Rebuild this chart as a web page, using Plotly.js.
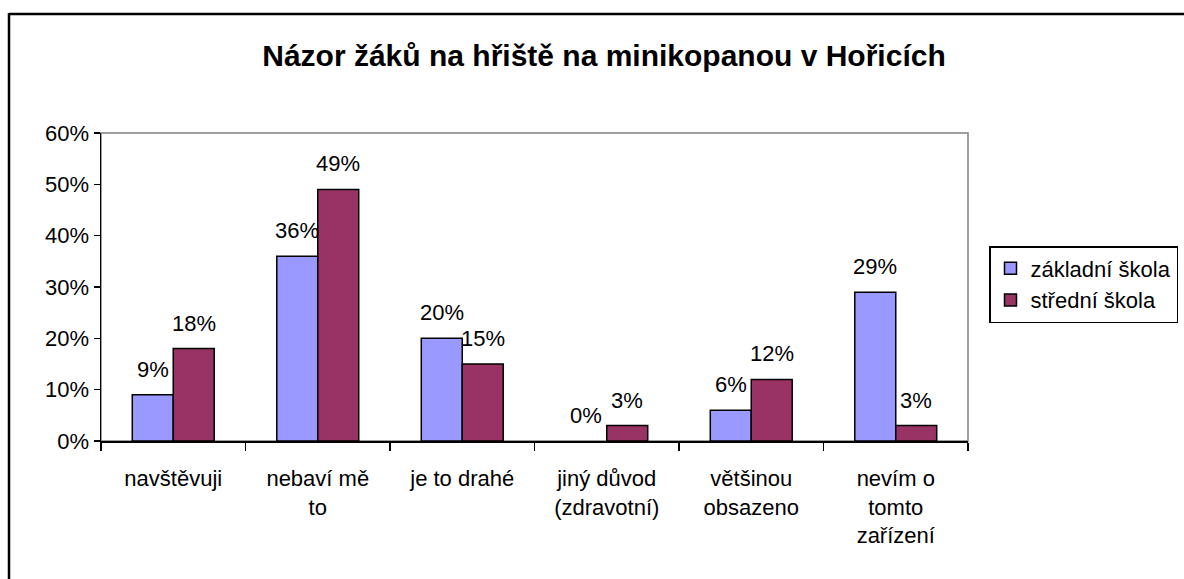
<!DOCTYPE html>
<html>
<head>
<meta charset="utf-8">
<script src="https://cdn.plot.ly/plotly-3.0.1.min.js"></script>
<style>html,body{margin:0;padding:0;background:#fff;}#chart{width:1184px;height:579px;}</style>
</head>
<body>
<div id="chart"></div>
<script>
const categories = ["navštěvuji", "nebaví mě<br>to", "je to drahé", "jiný důvod<br>(zdravotní)", "většinou<br>obsazeno", "nevím o<br>tomto<br>zařízení"];
const zakladni = [0.09, 0.36, 0.20, 0.00, 0.06, 0.29];
const stredni = [0.18, 0.49, 0.15, 0.03, 0.12, 0.03];
const seriesNames = ["základní škola", "střední škola"];
const yTicks = [0, 0.1, 0.2, 0.3, 0.4, 0.5, 0.6];
const yTickLabels = ["0%", "10%", "20%", "30%", "40%", "50%", "60%"];

const W = 1184, H = 579;
const M = {l: 101, r: 216, t: 133, b: 138, autoexpand: false};
const PW = W - M.l - M.r, PH = H - M.t - M.b;
const FONT = "Liberation Sans, Arial, sans-serif";
const FS = 22;
const bargap = 0.433;
const barPx = PW / categories.length * (1 - bargap) / 2;

function px2x(p) { return (p - M.l) / PW; }
function px2y(p) { return (H - M.b - p) / PH; }

const traces = [zakladni, stredni].map((arr, si) => ({
  type: "bar", name: seriesNames[si], x: categories, y: arr,
  marker: {color: si === 0 ? "#9999FF" : "#993366",
    line: {color: "#000", width: arr.map(v => v === 0 ? 0 : 1.5)}},
  hoverinfo: "none"
}));

const annotations = [];
[zakladni, stredni].forEach((arr, si) => {
  arr.forEach((v, i) => {
    annotations.push({
      x: categories[i], y: v, xref: "x", yref: "y",
      text: Math.round(v * 100) + "%", showarrow: false,
      xanchor: "center", yanchor: "bottom",
      xshift: (si === 0 ? -1 : 1) * barPx / 2, yshift: 11,
      font: {family: FONT, size: FS, color: "#000"}
    });
  });
});

const shapes = [
  {type: "rect", xref: "paper", yref: "paper", x0: 0, x1: 1, y0: 0, y1: 1,
   line: {color: "#808080", width: 1.5}, layer: "below"},
  {type: "line", xref: "paper", yref: "paper", x0: px2x(9), x1: px2x(9), y0: px2y(13), y1: px2y(H + 5),
   line: {color: "#000", width: 2.5}},
  {type: "line", xref: "paper", yref: "paper", x0: px2x(9), x1: px2x(W + 5), y0: px2y(14), y1: px2y(14),
   line: {color: "#000", width: 2.5}}
];

const layout = {
  width: W, height: H,
  margin: M,
  paper_bgcolor: "#fff", plot_bgcolor: "#fff",
  font: {family: FONT, size: FS, color: "#000"},
  title: {text: "<b>Názor žáků na hřiště na minikopanou v Hořicích</b>",
    xref: "container", yref: "container", x: 604 / W, y: 1 - 55 / H,
    xanchor: "center", yanchor: "middle",
    font: {family: FONT, size: 30, color: "#000"}},
  barmode: "group", bargap: bargap, bargroupgap: 0,
  xaxis: {type: "category", showline: true, linecolor: "#000", linewidth: 1.5,
    ticks: "outside", tickson: "boundaries", ticklen: 8, tickcolor: "#000", tickwidth: 1.5,
    ticklabelstandoff: 17,
    showgrid: false, zeroline: false, tickangle: 0,
    tickfont: {family: FONT, size: FS, color: "#000"}, fixedrange: true},
  yaxis: {range: [0, 0.6], tickvals: yTicks, ticktext: yTickLabels,
    showline: true, linecolor: "#000", linewidth: 1.5,
    ticks: "outside", ticklen: 6, tickcolor: "#000", tickwidth: 1.5,
    showgrid: false, zeroline: false,
    tickfont: {family: FONT, size: FS, color: "#000"}, fixedrange: true},
  legend: {x: px2x(989), y: px2y(246), xanchor: "left", yanchor: "top",
    bordercolor: "#000", borderwidth: 1.5, bgcolor: "#fff",
    font: {family: FONT, size: FS, color: "#000"}, tracegroupgap: 0,
    itemwidth: 30, traceorder: "normal"},
  showlegend: true,
  annotations: annotations,
  shapes: shapes
};

Plotly.newPlot("chart", traces, layout, {displayModeBar: false, staticPlot: true});
</script>
</body>
</html>
